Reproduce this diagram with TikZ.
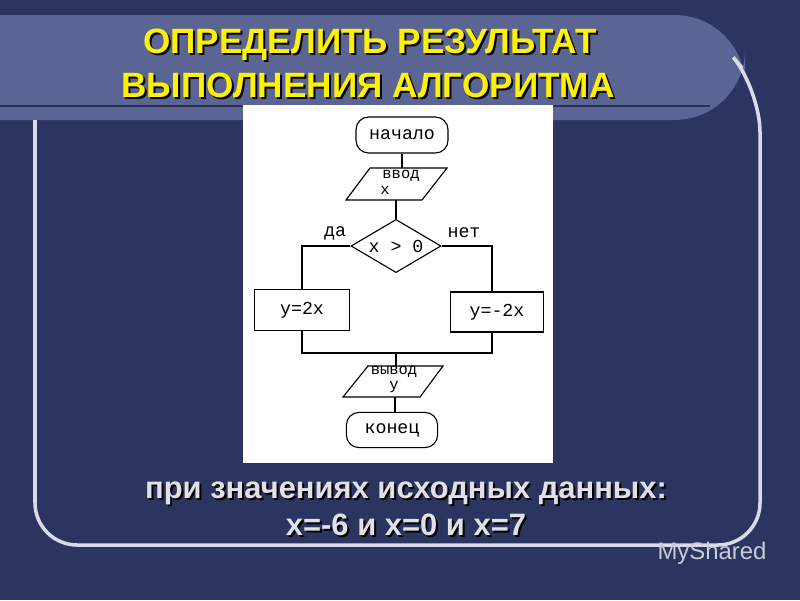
\documentclass[tikz,border=0pt]{standalone}
\usepackage{fontspec}
\setmainfont{Liberation Sans}
\newfontfamily\mono{Liberation Mono}
\usetikzlibrary{shapes.geometric,shadows}
\definecolor{bg}{HTML}{2C3460}
\definecolor{band}{HTML}{5A6593}
\definecolor{bandline}{HTML}{2A3158}
\definecolor{frame}{HTML}{D8DCE8}
\tikzset{
  term/.style={draw,rounded corners=9pt,thick,font=\mono\fontsize{13}{13}\selectfont,inner sep=0},
  iot/.style={font=\mono\fontsize{11}{11}\selectfont,inner sep=0},
  act/.style={draw,thick,font=\mono\fontsize{13}{13}\selectfont,inner sep=0},
  dec/.style={draw,thick,diamond,aspect=1.7,font=\mono\fontsize{13}{13}\selectfont,inner sep=0},
  lbl/.style={font=\mono\fontsize{13}{13}\selectfont},
  ln/.style={thick},
  ttl/.style={font=\bfseries\fontsize{25}{28}\selectfont,text=yellow},
  sub/.style={font=\bfseries\fontsize{22}{24}\selectfont,text=white!85!bg},
}
\begin{document}
\begin{tikzpicture}[x=0.025cm,y=-0.025cm]
\fill[bg] (0,0) rectangle (800,600);
\useasboundingbox (0,0) rectangle (800,600);
% title band
\fill[band] (0,15) [rounded corners=50pt]-- (745,15) -- (745,120) [sharp corners]-- (0,120) -- cycle;
\draw[bandline,line width=2pt] (0,106) -- (710,106);
% frame
\draw[frame,line width=2.5pt,rounded corners=30pt] (35,120) -- (35,545) -- (760,545) -- (760,90) -- (742,68);
% title
\node[ttl,text=black] (t1s) at (372,47) {ОПРЕДЕЛИТЬ РЕЗУЛЬТАТ};
\node[ttl] (t1) at (370,45) {ОПРЕДЕЛИТЬ РЕЗУЛЬТАТ};
\node[ttl,text=black] (t2s) at (370,87) {ВЫПОЛНЕНИЯ АЛГОРИТМА};
\node[ttl] (t2) at (368,85) {ВЫПОЛНЕНИЯ АЛГОРИТМА};
% flowchart
\fill[white] (243,105) rectangle (553,463);
\node[term,minimum width=2.3cm,minimum height=0.9cm] (start) at (402,135) {начало};
% input parallelogram
\draw[ln] (370,168) -- (447,168) -- (422,200) -- (346,200) -- cycle;
\coordinate (inN) at (402,168);
\coordinate (inS) at (396,200);
\node[iot] (int1) at (401,176) {ввод};
\node[iot] (int2) at (385,190) {x};
\node[dec,minimum width=2.25cm,minimum height=1.33cm] (cond) at (396,246) {x > 0};
\node[act,minimum width=2.37cm,minimum height=1.02cm] (yes) at (302,310) {y=2x};
\node[act,minimum width=2.33cm,minimum height=1.0cm] (no) at (497,312) {y=-2x};
% output parallelogram
\draw[ln] (368,366) -- (443,366) -- (420,397) -- (343,397) -- cycle;
\coordinate (outN) at (396,366);
\coordinate (outS) at (395,397);
\node[iot] (outt1) at (394,372) {вывод};
\node[iot] (outt2) at (394,387) {y};
\node[term,minimum width=2.28cm,minimum height=0.88cm] (stop) at (392,430) {конец};
\coordinate (j) at (396,353);
\coordinate (jl) at (302,353);
\coordinate (jr) at (492,353);
\draw[ln] (start) -- (inN);
\draw[ln] (inS) -- (cond.north);
\draw[ln] (cond.west) -| (yes.north);
\draw[ln] (cond.east) -| (jr |- no.north);
\draw[ln] (yes.south) -- (jl) -- (jr) -- (jr |- no.south);
\draw[ln] (j) -- (outN);
\draw[ln] (outS) -- (outS |- stop.north);
\node[lbl] (da) at (335,233) {да};
\node[lbl] (net) at (464,233) {нет};
% bottom text
\node[sub,text=black] (s1s) at (408,495) {при значениях исходных данных:};
\node[sub] (s1) at (406,493) {при значениях исходных данных:};
\node[sub,text=black] (s2s) at (408,527) {x=-6 и x=0 и x=7};
\node[sub] (s2) at (406,525) {x=-6 и x=0 и x=7};
% watermark
\node[font=\fontsize{17}{17}\selectfont,text=white!75!bg] (wm) at (712,553) {MyShared};
\end{tikzpicture}
\end{document}
